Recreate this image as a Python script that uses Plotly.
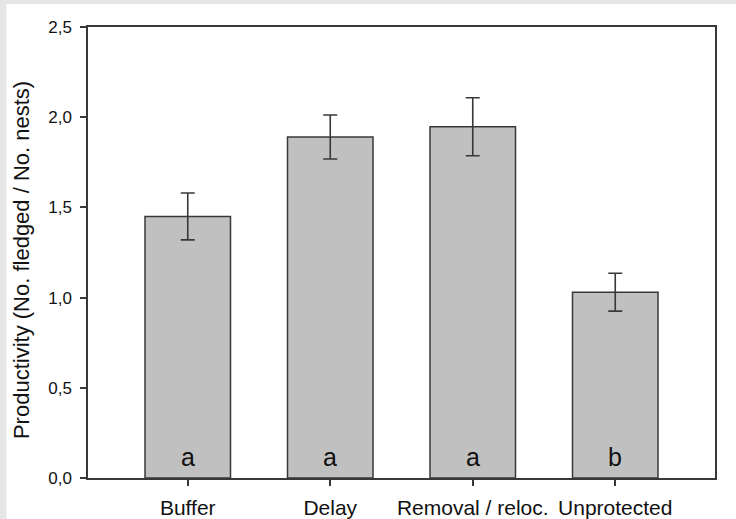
import plotly.graph_objects as go

# Productivity per nest-protection treatment
treatments = ["Buffer", "Delay", "Removal / reloc.", "Unprotected"]
productivity = [1.45, 1.89, 1.947, 1.03]
std_err = [0.13, 0.122, 0.161, 0.105]
group_letters = ["a", "a", "a", "b"]

y_tickvals = [0.0, 0.5, 1.0, 1.5, 2.0, 2.5]
y_ticktext = ["0,0", "0,5", "1,0", "1,5", "2,0", "2,5"]

FONT = "Liberation Sans, Arial, sans-serif"
LINE = "#383838"
TEXT = "#111111"

x_pos = list(range(len(treatments)))

fig = go.Figure()
fig.add_trace(go.Bar(
    x=x_pos,
    y=productivity,
    width=0.6,
    marker=dict(color="#c0c0c0", line=dict(color=LINE, width=1.5)),
    error_y=dict(type="data", array=std_err, visible=True,
                 color=LINE, thickness=1.6, width=7),
    showlegend=False,
))

# significance letters at the foot of each bar
for xi, letter in zip(x_pos, group_letters):
    fig.add_annotation(x=xi, y=0, yref="y", xref="x", text=letter,
                       showarrow=False, yanchor="bottom", yshift=5,
                       font=dict(family=FONT, size=25, color=TEXT))

# y-axis title
fig.add_annotation(x=-0.107, y=0.483, xref="paper", yref="paper",
                   text="Productivity (No. fledged / No. nests)",
                   textangle=-90, showarrow=False,
                   xanchor="center", yanchor="middle",
                   font=dict(family=FONT, size=22, color=TEXT))

# thin grey strips along the top and left edges of the page
GREY = "#e6e6e6"
fig.add_shape(type="rect", xref="paper", yref="paper",
              x0=-0.5, x1=1.5, y0=1.051, y1=1.5,
              fillcolor=GREY, line=dict(width=0), layer="below")
fig.add_shape(type="rect", xref="paper", yref="paper",
              x0=-0.5, x1=-0.130, y0=-0.5, y1=1.5,
              fillcolor=GREY, line=dict(width=0), layer="below")

fig.update_layout(
    width=736, height=519,
    margin=dict(l=88, r=21, t=27, b=41, autoexpand=False),
    paper_bgcolor="white",
    plot_bgcolor="white",
    font=dict(family=FONT, color=TEXT),
    bargap=0.4,
)
fig.update_xaxes(
    range=[-0.7, 3.7], automargin=False,
    tickvals=x_pos, ticktext=treatments,
    ticks="outside", ticklen=6, tickwidth=1.5, tickcolor=LINE,
    ticklabelstandoff=4,
    showline=True, linecolor=LINE, linewidth=1.5, mirror=True,
    showgrid=False, zeroline=False,
    tickfont=dict(family=FONT, size=21, color=TEXT),
)
fig.update_yaxes(
    range=[0, 2.5], automargin=False,
    tickvals=y_tickvals, ticktext=y_ticktext,
    ticks="outside", ticklen=6, tickwidth=1.5, tickcolor=LINE,
    ticklabelstandoff=5,
    showline=True, linecolor=LINE, linewidth=1.5, mirror=True,
    showgrid=False, zeroline=False,
    tickfont=dict(family=FONT, size=17, color=TEXT),
)

fig.write_html("out.html")
